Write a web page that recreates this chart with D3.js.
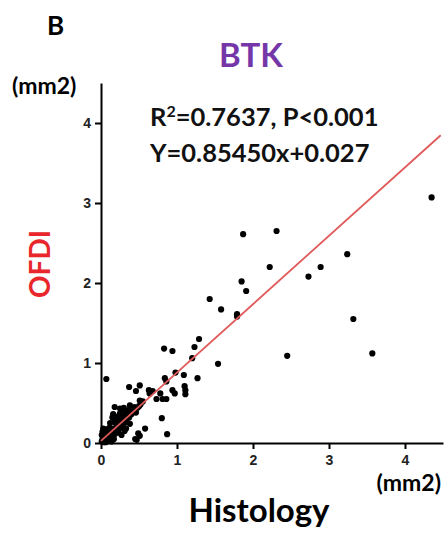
<!DOCTYPE html>
<html>
<head>
<meta charset="utf-8">
<script src="https://cdn.jsdelivr.net/npm/d3@7"></script>
<style>
  body { margin: 0; background: #fff; }
  svg { display: block; }
  .tick text { font-family: "Liberation Sans", Arial, sans-serif; font-weight: bold; font-size: 14px; }
</style>
</head>
<body>
<div id="chart"></div>
<script>
// histology (x) vs OFDI (y) areas, mm2
var histology = [4.35, 1.87, 2.31, 3.24, 2.22, 2.89, 2.73, 1.85, 1.91, 1.43, 1.58, 1.79, 1.79, 3.32,
  0.83, 0.94, 1.29, 1.23, 1.20, 1.54, 2.45, 3.57, 0.98, 1.09, 1.27, 0.84,
  0.07, 0.86, 1.10, 0.37, 0.51, 0.46, 0.63, 0.64, 0.68, 0.78, 0.94, 0.97, 1.11, 1.11,
  0.81, 0.73, 0.86, 0.51, 0.18, 0.25, 0.80, 0.58, 0.87, 0.51, 0.45, 0.38, 0.45, 0.49, 0.47,
  0.01, 0.02, 0.03, 0.04, 0.05, 0.06, 0.07, 0.08, 0.09, 0.10, 0.11, 0.12, 0.13, 0.14, 0.15,
  0.16, 0.17, 0.18, 0.02, 0.03, 0.05, 0.01, 0.08, 0.11, 0.06, 0.14, 0.19, 0.20, 0.04,
  0.21, 0.22, 0.23, 0.24, 0.25, 0.26, 0.27, 0.28, 0.29, 0.30, 0.31, 0.32, 0.33, 0.34, 0.35,
  0.36, 0.37, 0.38, 0.40, 0.41, 0.43, 0.44, 0.46, 0.48, 0.50, 0.52, 0.55, 0.28, 0.30, 0.22,
  0.25, 0.20, 0.33, 0.38, 0.27, 0.31, 0.18, 0.15, 0.16, 0.12];
var ofdi = [3.07, 2.61, 2.65, 2.36, 2.20, 2.20, 2.08, 2.02, 1.90, 1.80, 1.67, 1.61, 1.58, 1.55,
  1.18, 1.15, 1.30, 1.20, 1.06, 0.99, 1.09, 1.12, 0.88, 0.85, 0.81, 0.81,
  0.80, 0.77, 0.71, 0.70, 0.72, 0.65, 0.66, 0.62, 0.65, 0.62, 0.66, 0.62, 0.66, 0.61,
  0.55, 0.55, 0.55, 0.53, 0.45, 0.43, 0.31, 0.18, 0.11, 0.09, 0.05, 0.47, 0.43, 0.12, 0.04,
  0.02, 0.05, 0.01, 0.08, 0.03, 0.12, 0.06, 0.02, 0.10, 0.15, 0.07, 0.04, 0.12, 0.18, 0.09,
  0.14, 0.05, 0.11, 0.14, 0.18, 0.16, 0.10, 0.17, 0.19, 0.01, 0.02, 0.16, 0.20, 0.12,
  0.17, 0.24, 0.13, 0.21, 0.28, 0.19, 0.25, 0.31, 0.22, 0.28, 0.34, 0.26, 0.38, 0.30, 0.35,
  0.41, 0.32, 0.39, 0.36, 0.42, 0.40, 0.45, 0.38, 0.44, 0.46, 0.48, 0.52, 0.42, 0.44, 0.33,
  0.37, 0.30, 0.18, 0.24, 0.10, 0.15, 0.26, 0.32, 0.36, 0.25];
var tickValues = [0, 1, 2, 3, 4];
var slope = 0.85450, intercept = 0.027;
var statLines = ["=0.7637, P<0.001", "Y=0.85450x+0.027"];

var width = 445, height = 534;
var svg = d3.select("#chart").append("svg").attr("width", width).attr("height", height);

var x = d3.scaleLinear().domain([0, 4.5]).range([101, 443]);
var y = d3.scaleLinear().domain([0, 4.5]).range([443, 83]);

// axes
var xAxis = svg.append("g").attr("transform", "translate(0,443)")
  .call(d3.axisBottom(x).tickValues(tickValues).tickFormat(d3.format("d"))
    .tickSize(6).tickSizeOuter(0).tickPadding(6));
var yAxis = svg.append("g").attr("transform", "translate(101,0)")
  .call(d3.axisLeft(y).tickValues(tickValues).tickFormat(d3.format("d"))
    .tickSize(6).tickSizeOuter(0).tickPadding(4));
[xAxis, yAxis].forEach(function (a) {
  a.select(".domain").attr("stroke", "#000").attr("stroke-width", 2);
  a.selectAll(".tick line").attr("stroke", "#000").attr("stroke-width", 2);
  a.selectAll(".tick text").attr("fill", "#222");
});

// points
svg.append("g").selectAll("circle")
  .data(histology.map(function (d, i) { return [d, ofdi[i]]; }))
  .join("circle")
  .attr("cx", d => x(d[0]))
  .attr("cy", d => y(d[1]))
  .attr("r", 3.1)
  .attr("fill", "#000");

// regression line
svg.append("line")
  .attr("x1", x(0)).attr("y1", y(intercept))
  .attr("x2", x(4.47)).attr("y2", y(slope * 4.47 + intercept))
  .attr("stroke", "#e05a5a").attr("stroke-width", 1.8);

var font = "Lato, 'Open Sans', sans-serif";

svg.append("text").attr("x", 47).attr("y", 35).text("B")
  .style("font-family", font).style("font-weight", "bold").style("font-size", "26px");

svg.append("text").attr("x", 251).attr("y", 67).attr("text-anchor", "middle").text("BTK")
  .attr("fill", "#7537a8")
  .style("font-family", font).style("font-weight", "bold").style("font-size", "33px");

svg.append("text").attr("x", 12).attr("y", 94).text("(mm2)")
  .style("font-family", font).style("font-weight", "bold").style("font-size", "23px");

var r2 = svg.append("text").attr("x", 150).attr("y", 126)
  .style("font-family", font).style("font-weight", "bold").style("font-size", "25.5px").attr("fill", "#111");
r2.append("tspan").text("R");
r2.append("tspan").attr("dy", -9).style("font-size", "16px").text("2");
r2.append("tspan").attr("dy", 9).text(statLines[0]);

svg.append("text").attr("x", 150).attr("y", 162).text(statLines[1])
  .attr("fill", "#111")
  .style("font-family", font).style("font-weight", "bold").style("font-size", "25.5px");

svg.append("text").attr("transform", "translate(50,264) rotate(-90)")
  .attr("text-anchor", "middle").text("OFDI").attr("fill", "#e8262b")
  .style("font-family", font).style("font-weight", "bold").style("font-size", "28px");

svg.append("text").attr("x", 441).attr("y", 491).attr("text-anchor", "end").text("(mm2)")
  .style("font-family", font).style("font-weight", "bold").style("font-size", "23px");

svg.append("text").attr("x", 259).attr("y", 522).attr("text-anchor", "middle").text("Histology")
  .style("font-family", font).style("font-weight", "bold").style("font-size", "33px");
</script>
</body>
</html>
